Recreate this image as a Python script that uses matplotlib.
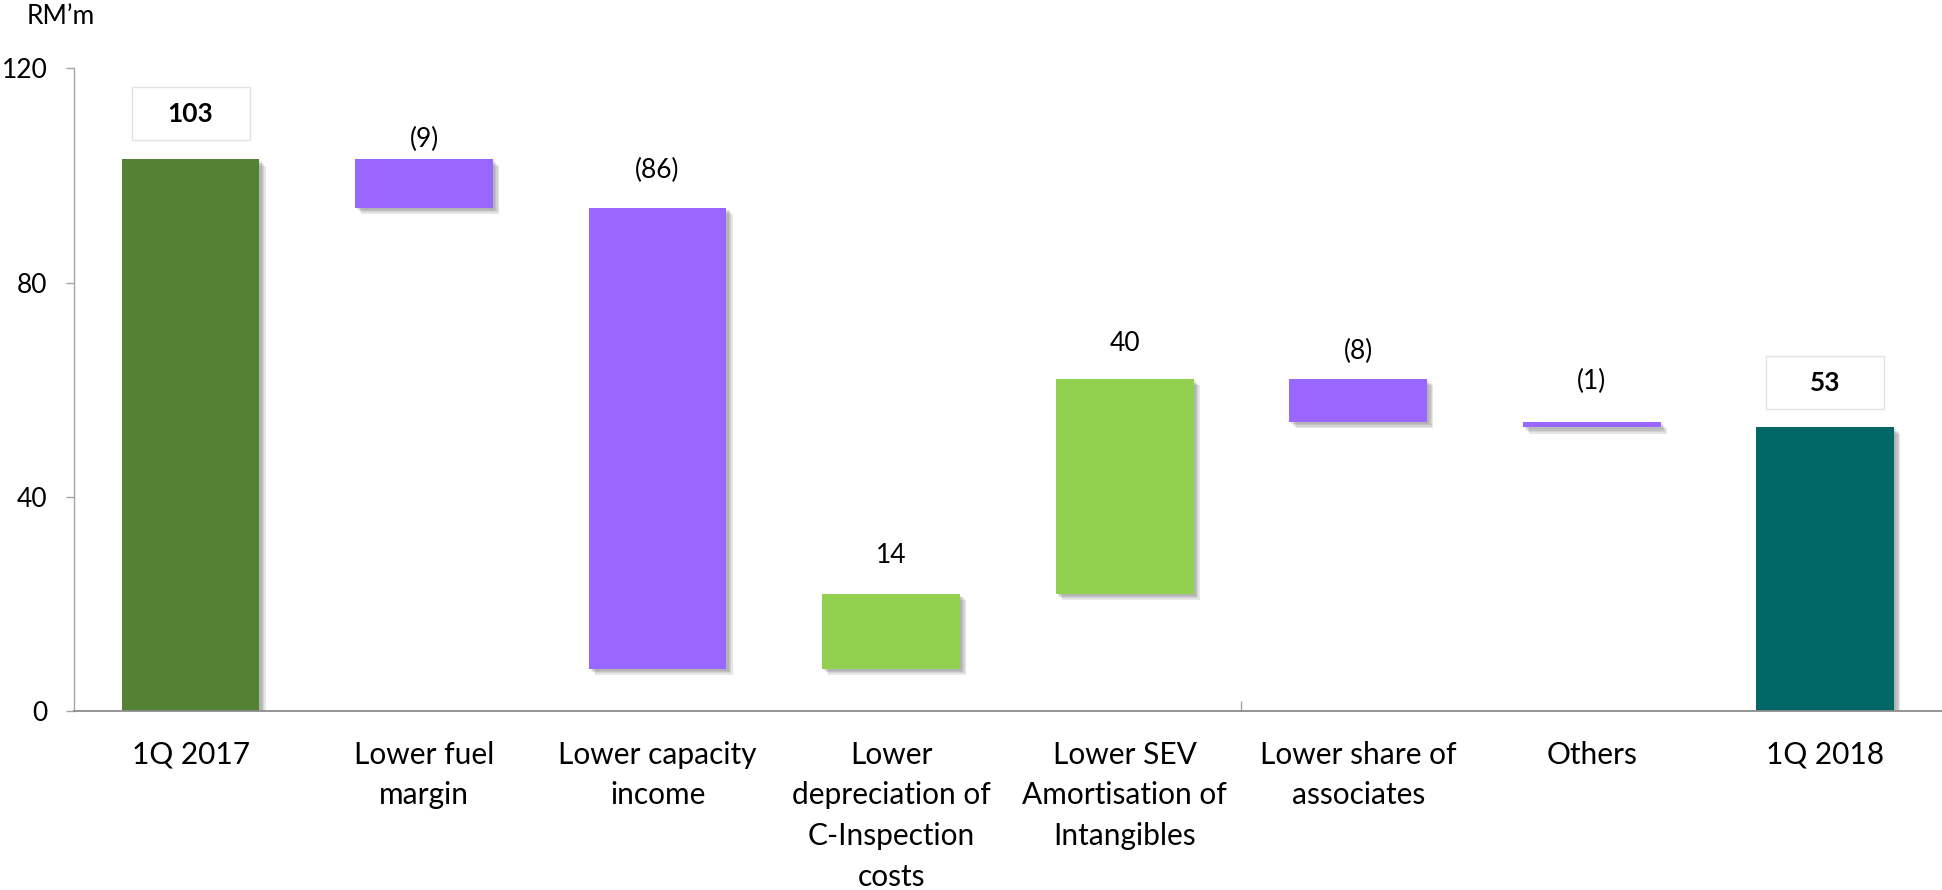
import matplotlib
matplotlib.use("Agg")
import matplotlib.pyplot as plt
import matplotlib.patheffects as pe
from matplotlib.patches import Rectangle
from matplotlib.transforms import offset_copy

# -------------------------------
# DATA
# -------------------------------
categories = [
    "1Q 2017",
    "Lower fuel\nmargin",
    "Lower capacity\nincome",
    "Lower\ndepreciation of\nC-Inspection\ncosts",
    "Lower SEV\nAmortisation of\nIntangibles",
    "Lower share of\nassociates",
    "Others",
    "1Q 2018",
]
values = [103, -9, -86, 14, 40, -8, -1, 53]
is_total = [True, False, False, False, False, False, False, True]
y_ticks = [0, 40, 80, 120]
unit_label = "RM\u2019m"

# -------------------------------
# STYLE
# -------------------------------
plt.rcParams["font.family"] = ["Lato", "DejaVu Sans"]
total_colors = ["#548235", "#006666"]
neg_color = "#9966FF"
pos_color = "#92D050"
# label distance above bar top, in pixels (as placed in the original slide)
label_gap_px = [45, 20, 37, 38, 36, 28, 41, 44]

fig = plt.figure(figsize=(19.42, 8.9), dpi=100)
ax = fig.add_axes([0.038, 0.2006, 0.962, 0.7227])

# running totals for waterfall
bottoms, heights, colors = [], [], []
running = 0
n_total = 0
for v, tot in zip(values, is_total):
    if tot:
        bottoms.append(0)
        heights.append(v)
        colors.append(total_colors[n_total])
        n_total += 1
        running = v
    else:
        bottoms.append(min(running, running + v))
        heights.append(abs(v))
        colors.append(neg_color if v < 0 else pos_color)
        running += v

x = list(range(len(categories)))
# soft drop shadow: a few stacked offsets
shadow = [pe.SimplePatchShadow(offset=(d, -d), shadow_rgbFace="#707070", alpha=0.17)
          for d in (4.5, 3.5, 2.5, 1.5)]
shadow.append(pe.Normal())
bars = ax.bar(x, heights, bottom=bottoms, width=0.59, color=colors, linewidth=0, zorder=3)
for b in bars:
    b.set_path_effects(shadow)

# -------------------------------
# AXES
# -------------------------------
ax.set_xlim(-0.5, len(categories) - 0.5)
ax.set_ylim(0, 120)
ax.set_yticks(y_ticks)
ax.set_xticks(x)
ax.set_xticklabels(categories, fontsize=21.5, linespacing=1.55)
ax.tick_params(axis="x", length=0, pad=21)
ax.tick_params(axis="y", length=6, width=1, color="#a6a6a6", pad=13, labelsize=19)
ax.set_xticks([4.5], minor=True)
ax.tick_params(axis="x", which="minor", direction="in", length=7, width=1, color="#a6a6a6")

for s in ["top", "right"]:
    ax.spines[s].set_visible(False)
ax.spines["left"].set_color("#a6a6a6")
ax.spines["left"].set_linewidth(1.0)
ax.spines["bottom"].set_color("#8c8c8c")
ax.spines["bottom"].set_linewidth(1.3)
ax.spines["bottom"].set_zorder(4)

# -------------------------------
# LABELS
# -------------------------------
for i, (v, tot) in enumerate(zip(values, is_total)):
    top = bottoms[i] + heights[i]
    trans = offset_copy(ax.transData, fig=fig, x=0, y=label_gap_px[i] * 0.72, units="points")
    if tot:
        ax.text(i, top, f"{v}", transform=trans, ha="center", va="center",
                fontsize=19, fontweight="bold", zorder=5)
        box_trans = offset_copy(ax.transData, fig=fig, x=-59 * 0.72,
                                y=(label_gap_px[i] - 26) * 0.72, units="points")
        disp = ax.transData.transform((i, top))
        # box size in data units (fixed pixel size)
        bw = ax.transData.inverted().transform((disp[0] + 118, disp[1]))[0] - i
        bh = ax.transData.inverted().transform((disp[0], disp[1] + 53))[1] - top
        ax.add_patch(Rectangle((i, top), bw, bh, transform=box_trans, facecolor="white",
                               clip_on=False, edgecolor="#e3e3e3", linewidth=1.0, zorder=4))
    else:
        txt = f"({abs(v)})" if v < 0 else f"{v}"
        ax.text(i, top, txt, transform=trans, ha="center", va="center", fontsize=19, zorder=5)

fig.text(27 / 1942, 1 - 16 / 890, unit_label, fontsize=19, ha="left", va="center")

fig.savefig("out.png", dpi=100)
